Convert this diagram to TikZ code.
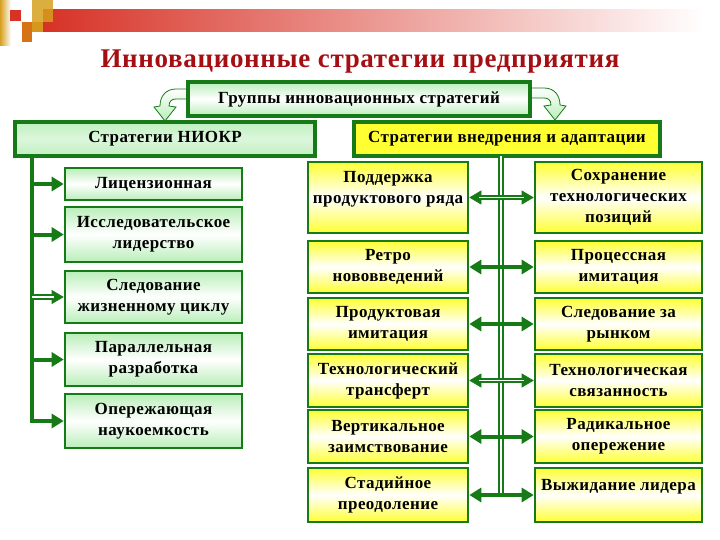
\documentclass[tikz,border=0pt]{standalone}
\usepackage{fontspec}
\setmainfont{Liberation Serif}
\usetikzlibrary{arrows.meta,calc}
\definecolor{dg}{RGB}{22,122,22}
\definecolor{lg}{RGB}{185,238,185}
\definecolor{yl}{RGB}{255,255,50}
\definecolor{titred}{RGB}{165,15,20}
\definecolor{barred}{RGB}{215,50,38}
\definecolor{gold}{RGB}{214,160,30}
\definecolor{orng}{RGB}{215,115,20}
\newcommand\bxfont{\fontsize{17}{21}\selectfont\bfseries\addfontfeature{LetterSpace=2.5}}
\newcommand\ttlfont{\fontsize{27}{32}\selectfont\bfseries\addfontfeature{LetterSpace=2.5}}
\tikzset{
  box/.style={draw=dg, line width=2.6pt, align=center, inner sep=1pt, font=\bxfont, text=black},
  gbox/.style={box, top color=lg, bottom color=lg, middle color=white},
  ybox/.style={box, top color=yl, bottom color=yl, middle color=white},
  headbox/.style={box, line width=3.6pt},
  solidarr/.style={draw=dg, line width=4pt, -{Triangle[length=12pt,width=14pt]}},
  solidarr2/.style={draw=dg, line width=4pt, {Triangle[length=12pt,width=14pt]}-{Triangle[length=12pt,width=14pt]}},
  thinarr/.style={draw=dg, line width=0.6pt, -{Triangle[length=12pt,width=14pt]}},
  thinarr2/.style={draw=dg, line width=0.6pt, {Triangle[length=12pt,width=14pt]}-{Triangle[length=12pt,width=14pt]}},
  dblline/.style={draw=dg, line width=1.8pt, double=white, double distance=1.6pt},
  uturn/.style={draw=dg, line width=0.8pt, top color=white, bottom color=lg},
}
\begin{document}
\begin{tikzpicture}[x=1pt,y=-1pt]
\useasboundingbox (0,0) rectangle (720,540);
\fill[white] (0,0) rectangle (720,540);
% top decoration
\shade[left color=barred, right color=white] (43,10) rectangle (705,32);
\shade[left color=gold, right color=white] (0,0) rectangle (11,46);
\fill[gold, opacity=0.85] (32,0) rectangle (53,22);
\fill[barred] (10,10) rectangle (21,21);
\fill[orng] (22,22) rectangle (32,42);
\fill[gold!80!orng] (32,22) rectangle (43,32);
% title
\node[font=\ttlfont, text=titred] (title) at (360,62) {Инновационные стратегии предприятия};
% curved hollow arrows
\path[uturn] (190,89) -- (176,89) .. controls (166,89) and (160,96) .. (160,106) -- (154,107) -- (165,121) -- (176,107) -- (169,106) .. controls (169,101) and (172,99) .. (176,99) -- (190,99) -- cycle;
\path[uturn] (528,88) -- (544,88) .. controls (554,88) and (560,95) .. (560,105) -- (566,106) -- (555,120) -- (544,106) -- (551,105) .. controls (551,100) and (548,98) .. (544,98) -- (528,98) -- cycle;
% head boxes
\node[headbox, top color=lg, bottom color=lg, middle color=white, minimum width=342pt, minimum height=34pt] (grp) at (359,99) {Группы инновационных стратегий};
\node[headbox, top color=lg!90, bottom color=lg!90, middle color=lg!50, minimum width=300pt, minimum height=34pt] (niokr) at (165,139) {Стратегии НИОКР};
\node[headbox, fill=yl, minimum width=306pt, minimum height=34pt] (adapt) at (507,139) {Стратегии внедрения и адаптации};
% left column
\begin{scope}[every node/.style={gbox, minimum width=177pt}]
\node[minimum height=32pt] (l1) at (153.5,184) {Лицензионная};
\node[minimum height=55pt] (l2) at (153.5,234.5) {Исследовательское\\лидерство};
\node[minimum height=52pt] (l3) at (153.5,297) {Следование\\жизненному циклу};
\node[minimum height=53pt] (l4) at (153.5,359.5) {Параллельная\\разработка};
\node[minimum height=54pt] (l5) at (153.5,421) {Опережающая\\наукоемкость};
\end{scope}
% middle and right columns
\begin{scope}[every node/.style={ybox}]
\node[minimum width=160pt, minimum height=71pt] (m1) at (388,197.5) {Поддержка\\продуктового ряда\\~};
\node[minimum width=160pt, minimum height=52pt] (m2) at (388,267) {Ретро\\нововведений};
\node[minimum width=160pt, minimum height=52pt] (m3) at (388,324) {Продуктовая\\имитация};
\node[minimum width=160pt, minimum height=53pt] (m4) at (388,380.5) {Технологический\\трансферт};
\node[minimum width=160pt, minimum height=53pt] (m5) at (388,436.5) {Вертикальное\\заимствование};
\node[minimum width=160pt, minimum height=54pt] (m6) at (388,495) {Стадийное\\преодоление};
\node[minimum width=167pt, minimum height=71pt] (r1) at (618.5,197.5) {Сохранение\\технологических\\позиций};
\node[minimum width=167pt, minimum height=52pt] (r2) at (618.5,267) {Процессная\\имитация};
\node[minimum width=167pt, minimum height=52pt] (r3) at (618.5,324) {Следование за\\рынком};
\node[minimum width=167pt, minimum height=53pt] (r4) at (618.5,380.5) {Технологическая\\связанность};
\node[minimum width=167pt, minimum height=53pt] (r5) at (618.5,436.5) {Радикальное\\опережение};
\node[minimum width=167pt, minimum height=54pt] (r6) at (618.5,495) {Выжидание лидера\\~};
\end{scope}
% left bar and arrows
\coordinate (lbtop) at (32,156);
\draw[solidarr] (lbtop) |- (l5.west);
\draw[solidarr] (lbtop |- l1.west) -- (l1.west);
\draw[solidarr] (lbtop |- l2.west) -- (l2.west);
\draw[thinarr] (lbtop |- l3.west) -- (l3.west);
\draw[dblline, shorten >=10pt] (lbtop |- l3.west) -- (l3.west);
\draw[solidarr] (lbtop |- l4.west) -- (l4.west);
% middle bar and arrows
\coordinate (mbtop) at (501,156);
\draw[dblline] (mbtop) -- (mbtop |- m6.east);
\draw[thinarr2] (m1.east) -- (r1.west);
\draw[dblline, shorten >=10pt, shorten <=10pt] (m1.east) -- (r1.west);
\draw[solidarr2] (m2.east) -- (r2.west);
\draw[solidarr2] (m3.east) -- (r3.west);
\draw[thinarr2] (m4.east) -- (r4.west);
\draw[dblline, shorten >=10pt, shorten <=10pt] (m4.east) -- (r4.west);
\draw[solidarr2] (m5.east) -- (r5.west);
\draw[solidarr2] (m6.east) -- (r6.west);
\end{tikzpicture}
\end{document}
